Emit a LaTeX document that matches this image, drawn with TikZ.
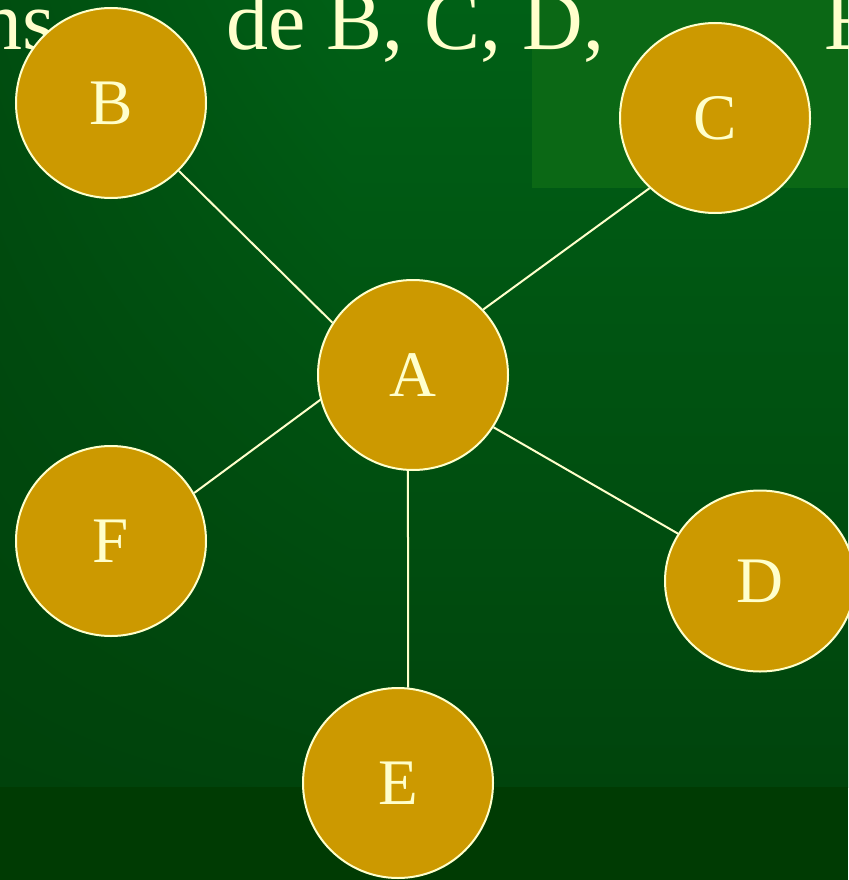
\documentclass[tikz,border=0pt]{standalone}
\usepackage{fontspec}
\setmainfont{Liberation Serif}
\usetikzlibrary{shapes.geometric,shadings}
\definecolor{goldfill}{HTML}{CC9900}
\definecolor{paleyellow}{HTML}{FFFFCC}
\definecolor{bgtl}{HTML}{004E10}
\definecolor{bgtr}{HTML}{006016}
\definecolor{bgbl}{HTML}{00420B}
\definecolor{bgbr}{HTML}{00440C}
\definecolor{bgband}{HTML}{003B03}
\definecolor{bgpanel}{HTML}{0B6815}
\tikzset{
  vertex/.style={circle, draw=paleyellow, fill=goldfill, line width=2pt,
    minimum size=190pt, inner sep=0pt, text=paleyellow,
    font=\fontsize{65}{70}\selectfont},
  vertexoval/.style={ellipse, draw=paleyellow, fill=goldfill, line width=2pt,
    minimum width=190pt, minimum height=181pt, inner sep=0pt, text=paleyellow,
    font=\fontsize{65}{70}\selectfont},
  edge/.style={draw=paleyellow, line width=2pt},
  title/.style={text=paleyellow, inner sep=0pt, font=\fontsize{84}{90}\selectfont}
}
\begin{document}
\begin{tikzpicture}[x=1pt,y=-1pt]
\useasboundingbox (0,0) rectangle (848,880);
% background
\shade[upper left=bgtl, upper right=bgtr, lower left=bgbl, lower right=bgbr]
  (0,0) rectangle (350,787);
\shade[top color=bgtr, bottom color=bgbr] (350,0) rectangle (848,787);
\fill[bgband] (0,787) rectangle (848,880);
\fill[bgpanel] (532,0) rectangle (848,188);
% title fragments
\node[title, anchor=base east] (t1) at (55,50) {ns};
\node[title, anchor=base west] (t2) at (226,50) {de B, C, D,};
\node[title, anchor=base west] (t3) at (824,50) {E};
% nodes
\node[vertex] (A) at (413,375) {A};
\node[vertex] (B) at (111,103) {B};
\node[vertex] (C) at (715,118) {C};
\node[vertexoval] (D) at (760,581) {D};
\node[vertex] (E) at (398,783) {E};
\node[vertex] (F) at (111,541) {F};
% edges
\draw[edge] (A.147) -- (B.-45);
\draw[edge] (A.43) -- (C.227);
\draw[edge] (A.195) -- (F.30);
\draw[edge] (A.-33) -- (D.150);
\draw[edge] (A.267) -- (E.84);
\end{tikzpicture}
\end{document}
